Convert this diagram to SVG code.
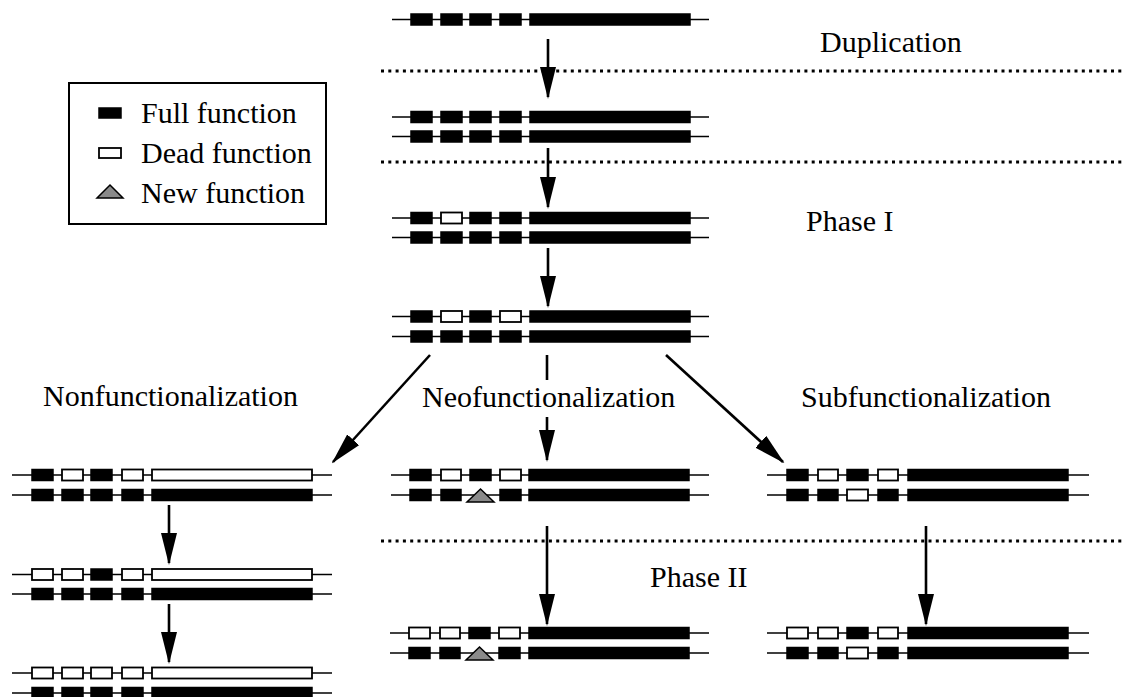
<svg xmlns="http://www.w3.org/2000/svg" width="1123" height="697" viewBox="0 0 1123 697">
<defs>
<style>
.ln{stroke:#000;stroke-width:1.6;fill:none}
.F{fill:#000;stroke:#000;stroke-width:1.5}
.D{fill:#fff;stroke:#000;stroke-width:1.8}
.T{fill:#8a8a8a;stroke:#000;stroke-width:1.5}
.dot{stroke:#000;stroke-width:3;stroke-dasharray:3 4.3;fill:none}
.ar{stroke:#000;stroke-width:2.6;fill:none}
.lab{font-family:"Liberation Serif","Times New Roman",serif;font-size:30px;fill:#000}
</style>
<marker id="ah" viewBox="0 0 32 16" refX="30" refY="8" markerWidth="32" markerHeight="16" markerUnits="userSpaceOnUse" orient="auto">
<path d="M0,0 L32,8 L0,16 z" fill="#000"/>
</marker>
</defs>
<rect width="1123" height="697" fill="#fff"/>

<g id="separators">
<line class="dot" x1="381" y1="71" x2="1123" y2="71"/>
<line class="dot" x1="381" y1="162" x2="1123" y2="162"/>
<line class="dot" x1="381" y1="541" x2="1123" y2="541"/>
</g>

<g id="labels">
<text class="lab" x="820" y="52">Duplication</text>
<text class="lab" x="806" y="231">Phase I</text>
<text class="lab" x="43" y="406">Nonfunctionalization</text>
<text class="lab" x="422" y="407">Neofunctionalization</text>
<text class="lab" x="801" y="407">Subfunctionalization</text>
<text class="lab" x="650" y="587">Phase II</text>
</g>

<g id="legend">
<rect x="69" y="83" width="257" height="141" fill="#fff" stroke="#000" stroke-width="2"/>
<rect class="F" x="99" y="108" width="22" height="10"/>
<text class="lab" x="141" y="123">Full function</text>
<rect class="D" x="99" y="148" width="22" height="10"/>
<text class="lab" x="141" y="163">Dead function</text>
<polygon class="T" points="97,198 123,198 110,185"/>
<text class="lab" x="141" y="203">New function</text>
</g>

<g id="connectors">
<line class="ar" x1="548" y1="39" x2="548" y2="97" marker-end="url(#ah)"/>
<line class="ar" x1="548" y1="148" x2="548" y2="207" marker-end="url(#ah)"/>
<line class="ar" x1="548" y1="248" x2="548" y2="306" marker-end="url(#ah)"/>
<line class="ar" x1="430" y1="355" x2="333" y2="462" marker-end="url(#ah)"/>
<line class="ar" x1="547" y1="355" x2="547" y2="380"/>
<line class="ar" x1="547" y1="417" x2="547" y2="460" marker-end="url(#ah)"/>
<line class="ar" x1="666" y1="355" x2="783" y2="462" marker-end="url(#ah)"/>
<line class="ar" x1="169" y1="505" x2="169" y2="563" marker-end="url(#ah)"/>
<line class="ar" x1="169" y1="604" x2="169" y2="662" marker-end="url(#ah)"/>
<line class="ar" x1="547" y1="526" x2="547" y2="624" marker-end="url(#ah)"/>
<line class="ar" x1="926" y1="526" x2="926" y2="624" marker-end="url(#ah)"/>
</g>

<!-- original gene -->
<g id="gene-original" transform="translate(411,19.5)">
<line class="ln" x1="-19" y1="0" x2="298" y2="0"/>
<rect class="F" x="0" y="-5.5" width="21" height="11"/><rect class="F" x="30" y="-5.5" width="21" height="11"/><rect class="F" x="59" y="-5.5" width="21" height="11"/><rect class="F" x="89" y="-5.5" width="21" height="11"/><rect class="F" x="119" y="-5.5" width="160" height="11"/>
</g>

<g id="duplicated">
<g transform="translate(411,117)">
<line class="ln" x1="-19" y1="0" x2="298" y2="0"/>
<rect class="F" x="0" y="-5.5" width="21" height="11"/><rect class="F" x="30" y="-5.5" width="21" height="11"/><rect class="F" x="59" y="-5.5" width="21" height="11"/><rect class="F" x="89" y="-5.5" width="21" height="11"/><rect class="F" x="119" y="-5.5" width="160" height="11"/>
</g>
<g transform="translate(411,136.5)">
<line class="ln" x1="-19" y1="0" x2="298" y2="0"/>
<rect class="F" x="0" y="-5.5" width="21" height="11"/><rect class="F" x="30" y="-5.5" width="21" height="11"/><rect class="F" x="59" y="-5.5" width="21" height="11"/><rect class="F" x="89" y="-5.5" width="21" height="11"/><rect class="F" x="119" y="-5.5" width="160" height="11"/>
</g>
</g>

<g id="phase1-a">
<g transform="translate(411,218)">
<line class="ln" x1="-19" y1="0" x2="298" y2="0"/>
<rect class="F" x="0" y="-5.5" width="21" height="11"/><rect class="D" x="30" y="-5.5" width="21" height="11"/><rect class="F" x="59" y="-5.5" width="21" height="11"/><rect class="F" x="89" y="-5.5" width="21" height="11"/><rect class="F" x="119" y="-5.5" width="160" height="11"/>
</g>
<g transform="translate(411,237.5)">
<line class="ln" x1="-19" y1="0" x2="298" y2="0"/>
<rect class="F" x="0" y="-5.5" width="21" height="11"/><rect class="F" x="30" y="-5.5" width="21" height="11"/><rect class="F" x="59" y="-5.5" width="21" height="11"/><rect class="F" x="89" y="-5.5" width="21" height="11"/><rect class="F" x="119" y="-5.5" width="160" height="11"/>
</g>
</g>

<g id="phase1-b">
<g transform="translate(411,316.5)">
<line class="ln" x1="-19" y1="0" x2="298" y2="0"/>
<rect class="F" x="0" y="-5.5" width="21" height="11"/><rect class="D" x="30" y="-5.5" width="21" height="11"/><rect class="F" x="59" y="-5.5" width="21" height="11"/><rect class="D" x="89" y="-5.5" width="21" height="11"/><rect class="F" x="119" y="-5.5" width="160" height="11"/>
</g>
<g transform="translate(411,336.5)">
<line class="ln" x1="-19" y1="0" x2="298" y2="0"/>
<rect class="F" x="0" y="-5.5" width="21" height="11"/><rect class="F" x="30" y="-5.5" width="21" height="11"/><rect class="F" x="59" y="-5.5" width="21" height="11"/><rect class="F" x="89" y="-5.5" width="21" height="11"/><rect class="F" x="119" y="-5.5" width="160" height="11"/>
</g>
</g>

<g id="nonfunc-1">
<g transform="translate(32,475)">
<line class="ln" x1="-20" y1="0" x2="300" y2="0"/>
<rect class="F" x="0" y="-5.5" width="21" height="11"/><rect class="D" x="30" y="-5.5" width="21" height="11"/><rect class="F" x="59" y="-5.5" width="21" height="11"/><rect class="D" x="90" y="-5.5" width="21" height="11"/><rect class="D" x="120" y="-5.5" width="160" height="11"/>
</g>
<g transform="translate(32,495)">
<line class="ln" x1="-20" y1="0" x2="300" y2="0"/>
<rect class="F" x="0" y="-5.5" width="21" height="11"/><rect class="F" x="30" y="-5.5" width="21" height="11"/><rect class="F" x="59" y="-5.5" width="21" height="11"/><rect class="F" x="90" y="-5.5" width="21" height="11"/><rect class="F" x="120" y="-5.5" width="160" height="11"/>
</g>
</g>

<g id="nonfunc-2">
<g transform="translate(32,574.5)">
<line class="ln" x1="-20" y1="0" x2="300" y2="0"/>
<rect class="D" x="0" y="-5.5" width="21" height="11"/><rect class="D" x="30" y="-5.5" width="21" height="11"/><rect class="F" x="59" y="-5.5" width="21" height="11"/><rect class="D" x="90" y="-5.5" width="21" height="11"/><rect class="D" x="120" y="-5.5" width="160" height="11"/>
</g>
<g transform="translate(32,594)">
<line class="ln" x1="-20" y1="0" x2="300" y2="0"/>
<rect class="F" x="0" y="-5.5" width="21" height="11"/><rect class="F" x="30" y="-5.5" width="21" height="11"/><rect class="F" x="59" y="-5.5" width="21" height="11"/><rect class="F" x="90" y="-5.5" width="21" height="11"/><rect class="F" x="120" y="-5.5" width="160" height="11"/>
</g>
</g>

<g id="nonfunc-3">
<g transform="translate(32,673)">
<line class="ln" x1="-20" y1="0" x2="300" y2="0"/>
<rect class="D" x="0" y="-5.5" width="21" height="11"/><rect class="D" x="30" y="-5.5" width="21" height="11"/><rect class="D" x="59" y="-5.5" width="21" height="11"/><rect class="D" x="90" y="-5.5" width="21" height="11"/><rect class="D" x="120" y="-5.5" width="160" height="11"/>
</g>
<g transform="translate(32,693)">
<line class="ln" x1="-20" y1="0" x2="300" y2="0"/>
<rect class="F" x="0" y="-5.5" width="21" height="11"/><rect class="F" x="30" y="-5.5" width="21" height="11"/><rect class="F" x="59" y="-5.5" width="21" height="11"/><rect class="F" x="90" y="-5.5" width="21" height="11"/><rect class="F" x="120" y="-5.5" width="160" height="11"/>
</g>
</g>

<g id="neofunc-1">
<g transform="translate(410,475)">
<line class="ln" x1="-19" y1="0" x2="299" y2="0"/>
<rect class="F" x="0" y="-5.5" width="21" height="11"/><rect class="D" x="31" y="-5.5" width="20" height="11"/><rect class="F" x="60" y="-5.5" width="21" height="11"/><rect class="D" x="90" y="-5.5" width="21" height="11"/><rect class="F" x="119" y="-5.5" width="160" height="11"/>
</g>
<g transform="translate(410,495)">
<line class="ln" x1="-19" y1="0" x2="299" y2="0"/>
<rect class="F" x="0" y="-5.5" width="21" height="11"/><rect class="F" x="31" y="-5.5" width="20" height="11"/><polygon class="T" points="57,7 84,7 70.5,-6"/><rect class="F" x="90" y="-5.5" width="21" height="11"/><rect class="F" x="119" y="-5.5" width="160" height="11"/>
</g>
</g>

<g id="neofunc-2">
<g transform="translate(409,633)">
<line class="ln" x1="-19" y1="0" x2="300" y2="0"/>
<rect class="D" x="0" y="-5.5" width="21" height="11"/><rect class="D" x="31" y="-5.5" width="20" height="11"/><rect class="F" x="60" y="-5.5" width="21" height="11"/><rect class="D" x="90" y="-5.5" width="21" height="11"/><rect class="F" x="120" y="-5.5" width="160" height="11"/>
</g>
<g transform="translate(409,653)">
<line class="ln" x1="-19" y1="0" x2="300" y2="0"/>
<rect class="F" x="0" y="-5.5" width="21" height="11"/><rect class="F" x="31" y="-5.5" width="20" height="11"/><polygon class="T" points="57,7 84,7 70.5,-6"/><rect class="F" x="90" y="-5.5" width="21" height="11"/><rect class="F" x="120" y="-5.5" width="160" height="11"/>
</g>
</g>

<g id="subfunc-1">
<g transform="translate(787,475)">
<line class="ln" x1="-20" y1="0" x2="302" y2="0"/>
<rect class="F" x="0" y="-5.5" width="21" height="11"/><rect class="D" x="31" y="-5.5" width="20" height="11"/><rect class="F" x="60" y="-5.5" width="21" height="11"/><rect class="D" x="91" y="-5.5" width="20" height="11"/><rect class="F" x="121" y="-5.5" width="160" height="11"/>
</g>
<g transform="translate(787,495)">
<line class="ln" x1="-20" y1="0" x2="302" y2="0"/>
<rect class="F" x="0" y="-5.5" width="21" height="11"/><rect class="F" x="31" y="-5.5" width="20" height="11"/><rect class="D" x="60" y="-5.5" width="21" height="11"/><rect class="F" x="91" y="-5.5" width="20" height="11"/><rect class="F" x="121" y="-5.5" width="160" height="11"/>
</g>
</g>

<g id="subfunc-2">
<g transform="translate(787,633)">
<line class="ln" x1="-20" y1="0" x2="302" y2="0"/>
<rect class="D" x="0" y="-5.5" width="21" height="11"/><rect class="D" x="31" y="-5.5" width="20" height="11"/><rect class="F" x="60" y="-5.5" width="21" height="11"/><rect class="D" x="91" y="-5.5" width="20" height="11"/><rect class="F" x="121" y="-5.5" width="160" height="11"/>
</g>
<g transform="translate(787,653)">
<line class="ln" x1="-20" y1="0" x2="302" y2="0"/>
<rect class="F" x="0" y="-5.5" width="21" height="11"/><rect class="F" x="31" y="-5.5" width="20" height="11"/><rect class="D" x="60" y="-5.5" width="21" height="11"/><rect class="F" x="91" y="-5.5" width="20" height="11"/><rect class="F" x="121" y="-5.5" width="160" height="11"/>
</g>
</g>
</svg>
